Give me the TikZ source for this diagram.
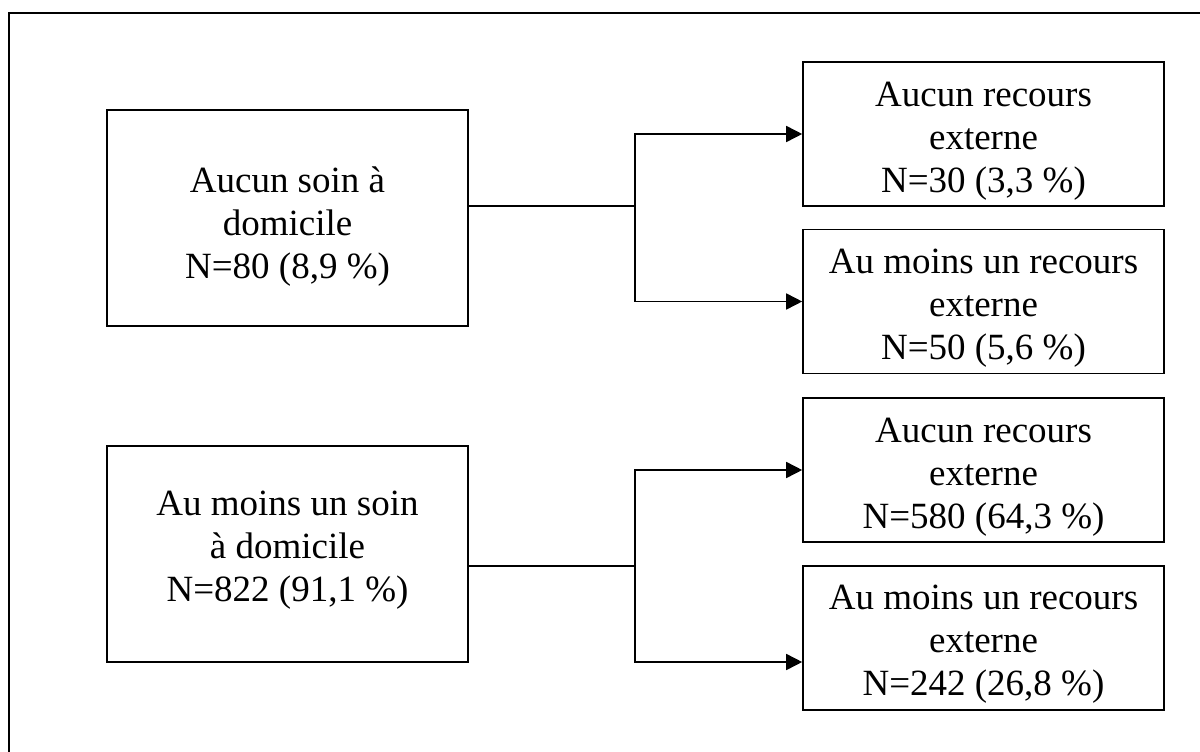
\documentclass[tikz,border=0pt]{standalone}
\usepackage{fontspec}
\setmainfont{Liberation Serif}
\usetikzlibrary{arrows.meta}
\begin{document}
\begin{tikzpicture}[x=1pt,y=-1pt,
  box/.style={draw=black, line width=1.6pt, inner sep=0pt},
  lbox/.style={box, minimum width=361pt, minimum height=216pt},
  rbox/.style={box, minimum width=361pt, minimum height=144pt},
  txt/.style={align=center, inner sep=0pt, font=\fontsize{37}{43}\selectfont},
  conn/.style={line width=1.6pt},
  arr/.style={conn, -{Triangle[length=16pt,width=16pt]}}]
\useasboundingbox (0,0) rectangle (1200,752);
\clip (0,0) rectangle (1200,752);
\draw[line width=2.2pt] (9,13) rectangle (1230,790);
% left boxes
\node[lbox] (b1) at (287.5,218) {};
\node[txt] (t1) at (287.5,227) {Aucun soin à\\domicile\\N=80 (8,9~\%)};
\node[lbox] (b2) at (287.5,554) {};
\node[txt] (t2) at (287.5,550) {Au moins un soin\\à domicile\\N=822 (91,1~\%)};
% right boxes
\node[rbox] (a1) at (983.5,134) {};
\node[txt] (ta1) at (983.5,141) {Aucun recours\\externe\\N=30 (3,3~\%)};
\node[rbox] (a2) at (983.5,301.5) {};
\node[txt] (ta2) at (983.5,308) {Au moins un recours\\externe\\N=50 (5,6~\%)};
\node[rbox] (c1) at (983.5,470) {};
\node[txt] (tc1) at (983.5,477) {Aucun recours\\externe\\N=580 (64,3~\%)};
\node[rbox] (c2) at (983.5,638) {};
\node[txt] (tc2) at (983.5,644) {Au moins un recours\\externe\\N=242 (26,8~\%)};
% connectors
\coordinate (j1) at (635,206);
\coordinate (j2) at (635,566);
\draw[conn] (b1.east |- j1) -- (j1);
\draw[arr] (j1) |- (a1.west);
\draw[arr] (j1) |- (a2.west);
\draw[conn] (b2.east |- j2) -- (j2);
\draw[arr] (j2) |- (c1.west);
\draw[arr] (j2) |- ([yshift=-24pt]c2.west);
\end{tikzpicture}
\end{document}
